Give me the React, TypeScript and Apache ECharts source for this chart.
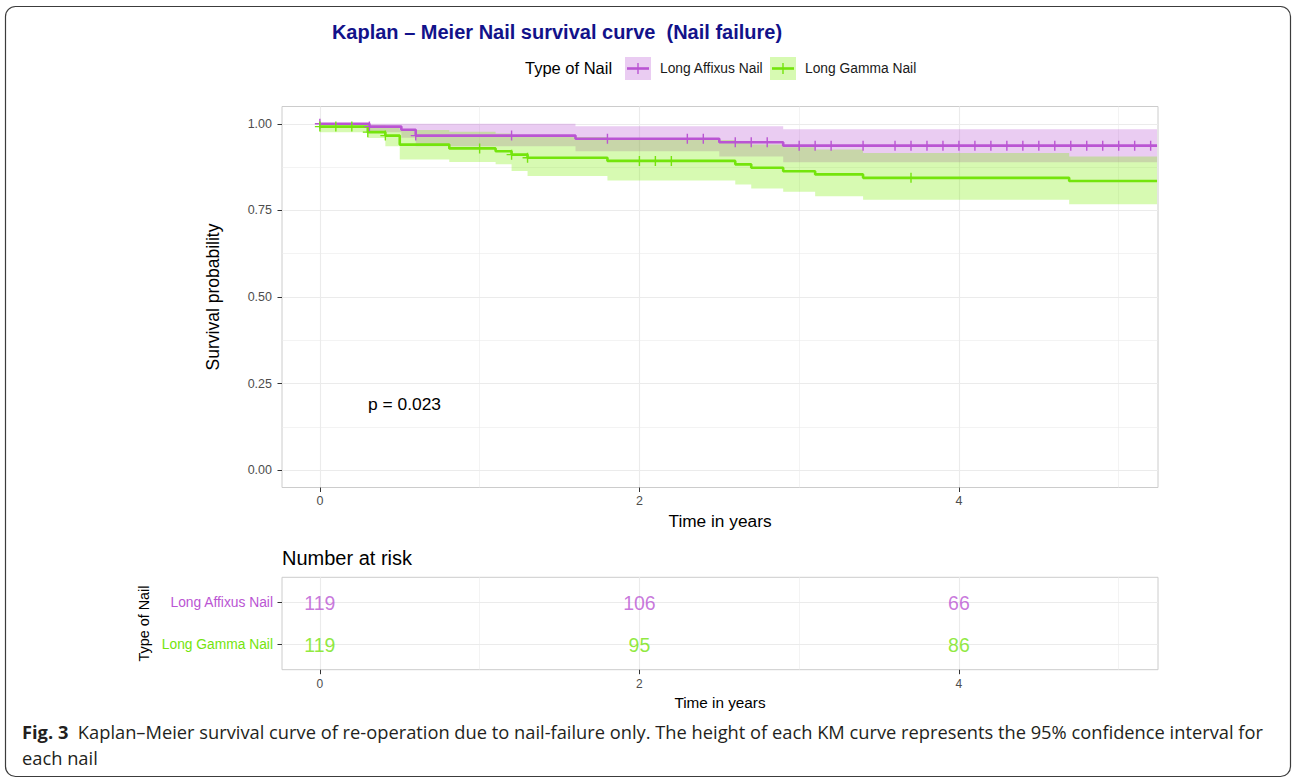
import React, { useEffect, useRef } from "react";
import * as echarts from "echarts";

// ---------- data ----------
const groups = ["Long Affixus Nail", "Long Gamma Nail"];
const groupColors = ["#BA55D3", "#74E40C"];
const bandColors = ["rgba(186,85,211,0.3)", "rgba(124,240,0,0.3)"];

// Long Affixus Nail (step times in years, survival, 95% CI)
const affixusTime = [0, 0.31, 0.51, 0.6, 1.6, 2.5, 2.9, 5.24];
const affixusSurv = [1.0, 0.992, 0.983, 0.966, 0.957, 0.947, 0.937, 0.937];
const affixusUpper = [1.0, 1.0, 1.0, 1.0, 0.993, 0.993, 0.984, 0.984];
const affixusLower = [1.0, 0.976, 0.96, 0.935, 0.921, 0.906, 0.889, 0.889];
const affixusCensor = [0, 0.31, 0.6, 1.2, 1.8, 2.3, 2.4, 2.6, 2.7, 2.8, 3.0, 3.1, 3.2, 3.4, 3.6, 3.7, 3.8, 3.9, 4.0, 4.1, 4.2, 4.3, 4.4, 4.5, 4.6, 4.7, 4.8, 4.9, 5.0, 5.1, 5.2];

// Long Gamma Nail
const gammaTime = [0, 0.3, 0.41, 0.5, 0.81, 1.1, 1.2, 1.3, 1.8, 2.6, 2.7, 2.9, 3.1, 3.4, 4.69, 5.24];
const gammaSurv = [0.992, 0.976, 0.966, 0.94, 0.929, 0.921, 0.911, 0.902, 0.893, 0.883, 0.873, 0.863, 0.854, 0.844, 0.835, 0.835];
const gammaUpper = [1.0, 0.995, 0.99, 0.982, 0.977, 0.972, 0.967, 0.962, 0.953, 0.947, 0.94, 0.932, 0.926, 0.916, 0.906, 0.906];
const gammaLower = [0.976, 0.959, 0.935, 0.897, 0.89, 0.883, 0.864, 0.849, 0.836, 0.825, 0.813, 0.804, 0.791, 0.781, 0.768, 0.768];
const gammaCensor = [0, 0.1, 0.2, 0.3, 0.41, 1.0, 1.2, 1.3, 2.0, 2.1, 2.2, 3.7];

// Number at risk
const riskTimes = [0, 2, 4];
const affixusRisk = [119, 106, 66];
const gammaRisk = [119, 95, 86];

const xTicks = [0, 2, 4];
const xMinorTicks = [1, 3, 5];
const yTicks = [0, 0.25, 0.5, 0.75, 1];
const yMinorTicks = [0.125, 0.375, 0.625, 0.875];

const pValueText = "p = 0.023";

// ---------- helpers ----------
const FONT = "'Liberation Sans', Arial, Helvetica, sans-serif";
const CAPTION_FONT = "'Open Sans', 'Noto Sans', sans-serif";
const X_MIN = -0.237;
const X_MAX = 5.246;
const GRID_LINE = "#ebebeb";

function survAt(times: number[], surv: number[], t: number) {
  let v = surv[0];
  for (let i = 0; i < times.length; i++) if (times[i] <= t + 1e-9) v = surv[i];
  return v;
}

function bandSeries(times: number[], lo: number[], hi: number[], fill: string) {
  return {
    type: "custom",
    xAxisIndex: 0,
    yAxisIndex: 0,
    silent: true,
    z: 1,
    data: [[times[0], hi[0]]],
    renderItem: (_p: any, api: any) => {
      const pts: number[][] = [];
      for (let i = 0; i < times.length - 1; i++) {
        pts.push(api.coord([times[i], hi[i]]));
        pts.push(api.coord([times[i + 1], hi[i]]));
      }
      for (let i = times.length - 2; i >= 0; i--) {
        pts.push(api.coord([times[i + 1], lo[i]]));
        pts.push(api.coord([times[i], lo[i]]));
      }
      return { type: "polygon", shape: { points: pts }, style: { fill, stroke: "none" } };
    },
  };
}

const PLUS = "path://M4.3,0H5.7V4.3H10V5.7H5.7V10H4.3V5.7H0V4.3H4.3Z";

function lineSeries(name: string, times: number[], surv: number[], color: string) {
  return {
    type: "line",
    name,
    xAxisIndex: 0,
    yAxisIndex: 0,
    step: "end",
    symbol: "none",
    showSymbol: false,
    silent: true,
    z: 3,
    data: times.map((t, i) => [t, surv[i]]),
    lineStyle: { width: 2.6, color },
    itemStyle: { color },
  };
}

function censorSeries(name: string, censor: number[], times: number[], surv: number[], color: string) {
  return {
    type: "scatter",
    name: name + " censored",
    xAxisIndex: 0,
    yAxisIndex: 0,
    symbol: PLUS,
    symbolSize: 10,
    silent: true,
    z: 4,
    data: censor.map((t) => [t, survAt(times, surv, t)]),
    itemStyle: { color, opacity: 1 },
  };
}

function riskSeries(row: number, values: number[], color: string) {
  return {
    type: "scatter",
    xAxisIndex: 2,
    yAxisIndex: 2,
    symbol: "circle",
    symbolSize: 1,
    silent: true,
    itemStyle: { color: "rgba(0,0,0,0)" },
    data: riskTimes.map((t, i) => [t, row, values[i]]),
    label: {
      show: true,
      position: "inside",
      formatter: (p: any) => String(p.value[2]),
      color,
      fontSize: 19.5,
      fontFamily: FONT,
    },
  };
}

const axisTickStyle = { lineStyle: { color: "#333333", width: 1 } };
const noLine = { show: false, onZero: false };

function buildOption() {
  return {
    animation: false,
    backgroundColor: "#ffffff",
    textStyle: { fontFamily: FONT },
    grid: [
      { left: 282, top: 106.5, width: 876, height: 381, show: true, borderColor: "#cccccc", borderWidth: 1, backgroundColor: "transparent" },
      { left: 282, top: 577.3, width: 876, height: 92.4, show: true, borderColor: "#cccccc", borderWidth: 1, backgroundColor: "transparent" },
    ],
    xAxis: [
      {
        type: "value", gridIndex: 0, min: X_MIN, max: X_MAX, position: "bottom",
        axisLine: noLine,
        axisTick: { show: true, length: 4.5, customValues: xTicks, ...axisTickStyle },
        axisLabel: { customValues: xTicks, color: "#4d4d4d", fontSize: 12.5, margin: 7, fontFamily: FONT },
        splitLine: { show: true, lineStyle: { color: GRID_LINE, width: 1.1 } },
        name: "Time in years", nameLocation: "middle", nameGap: 25,
        nameTextStyle: { color: "#000", fontSize: 17.3, fontFamily: FONT },
      },
      {
        type: "value", gridIndex: 0, min: X_MIN, max: X_MAX, position: "top",
        axisLine: noLine, axisLabel: { show: false },
        axisTick: { show: false, customValues: xMinorTicks },
        splitLine: { show: true, lineStyle: { color: GRID_LINE, width: 0.6 } },
      },
      {
        type: "value", gridIndex: 1, min: X_MIN, max: X_MAX, position: "bottom",
        axisLine: noLine,
        axisTick: { show: true, length: 4.5, customValues: xTicks, ...axisTickStyle },
        axisLabel: { customValues: xTicks, color: "#4d4d4d", fontSize: 12, margin: 8, fontFamily: FONT },
        splitLine: { show: true, lineStyle: { color: GRID_LINE, width: 1.1 } },
        name: "Time in years", nameLocation: "middle", nameGap: 25,
        nameTextStyle: { color: "#000", fontSize: 15.3, fontFamily: FONT },
      },
      {
        type: "value", gridIndex: 1, min: X_MIN, max: X_MAX, position: "top",
        axisLine: noLine, axisLabel: { show: false },
        axisTick: { show: false, customValues: xMinorTicks },
        splitLine: { show: true, lineStyle: { color: GRID_LINE, width: 0.6 } },
      },
    ],
    yAxis: [
      {
        type: "value", gridIndex: 0, min: -0.05, max: 1.05, position: "left",
        axisLine: noLine,
        axisTick: { show: true, length: 4.5, customValues: yTicks, ...axisTickStyle },
        axisLabel: { customValues: yTicks, formatter: (v: number) => v.toFixed(2), color: "#4d4d4d", fontSize: 12.5, margin: 10, fontFamily: FONT },
        splitLine: { show: true, lineStyle: { color: GRID_LINE, width: 1.1 } },
        name: "Survival probability", nameLocation: "middle", nameGap: 60,
        nameTextStyle: { color: "#000", fontSize: 17.5, fontFamily: FONT },
      },
      {
        type: "value", gridIndex: 0, min: -0.05, max: 1.05, position: "right",
        axisLine: noLine, axisLabel: { show: false },
        axisTick: { show: false, customValues: yMinorTicks },
        splitLine: { show: true, lineStyle: { color: GRID_LINE, width: 0.6 } },
      },
      {
        type: "value", gridIndex: 1, min: 0.4, max: 2.6, inverse: true, position: "left",
        axisLine: noLine,
        axisTick: { show: true, length: 4.5, customValues: [1, 2], ...axisTickStyle },
        axisLabel: {
          customValues: [1, 2],
          formatter: (v: number) => groups[Math.round(Number(v)) - 1] || "",
          color: (v: any) => groupColors[Math.round(Number(v)) - 1] || "#4d4d4d",
          fontSize: 13.8, margin: 9, fontFamily: FONT,
        },
        splitLine: { show: true, lineStyle: { color: GRID_LINE, width: 1.1 } },
        name: "Type of Nail", nameLocation: "middle", nameGap: 128,
        nameTextStyle: { color: "#000", fontSize: 14.4, fontFamily: FONT },
      },
    ],
    series: [
      bandSeries(affixusTime, affixusLower, affixusUpper, bandColors[0]),
      bandSeries(gammaTime, gammaLower, gammaUpper, bandColors[1]),
      lineSeries(groups[0], affixusTime, affixusSurv, groupColors[0]),
      lineSeries(groups[1], gammaTime, gammaSurv, groupColors[1]),
      censorSeries(groups[0], affixusCensor, affixusTime, affixusSurv, groupColors[0]),
      censorSeries(groups[1], gammaCensor, gammaTime, gammaSurv, groupColors[1]),
      riskSeries(1, affixusRisk, groupColors[0]),
      riskSeries(2, gammaRisk, groupColors[1]),
    ],
    graphic: [
      {
        type: "rect", silent: true, z: -1,
        shape: { x: 5.5, y: 6.5, width: 1285, height: 770, r: 10 },
        style: { fill: "none", stroke: "#3c3c3c", lineWidth: 1.2 },
      },
      {
        type: "text", x: 557, y: 32, silent: true,
        style: { text: "Kaplan – Meier Nail survival curve  (Nail failure)", fontSize: 20, fontWeight: "bold", fontFamily: FONT, fill: "#12128a", align: "center", verticalAlign: "middle" },
      },
      {
        type: "text", x: 525, y: 68, silent: true,
        style: { text: "Type of Nail", fontSize: 16.5, fontFamily: FONT, fill: "#000", align: "left", verticalAlign: "middle" },
      },
      // legend keys
      ...[0, 1].flatMap((g) => {
        const kx = g === 0 ? 625 : 770;
        const tx = g === 0 ? 660 : 805;
        return [
          { type: "rect", silent: true, shape: { x: kx, y: 57, width: 26, height: 23 }, style: { fill: bandColors[g] } },
          { type: "line", silent: true, shape: { x1: kx + 2, y1: 68.5, x2: kx + 24, y2: 68.5 }, style: { stroke: groupColors[g], lineWidth: 2.6 } },
          { type: "line", silent: true, shape: { x1: kx + 13, y1: 63, x2: kx + 13, y2: 74 }, style: { stroke: groupColors[g], lineWidth: 1.4 } },
          { type: "text", silent: true, x: tx, y: 68.5, style: { text: groups[g], fontSize: 13.8, fontFamily: FONT, fill: "#1a1a1a", align: "left", verticalAlign: "middle" } },
        ];
      }),
      {
        type: "text", x: 368, y: 404, silent: true,
        style: { text: pValueText, fontSize: 17.4, fontFamily: FONT, fill: "#000", align: "left", verticalAlign: "middle" },
      },
      {
        type: "text", x: 282, y: 558, silent: true,
        style: { text: "Number at risk", fontSize: 20, fontFamily: FONT, fill: "#000", align: "left", verticalAlign: "middle" },
      },
      {
        type: "text", x: 22, y: 731, silent: true,
        style: {
          text: "{b|Fig. 3}  Kaplan–Meier survival curve of re-operation due to nail-failure only. The height of each KM curve represents the 95% confidence interval for",
          fontSize: 18.3, fontFamily: CAPTION_FONT, fill: "#231f20", align: "left", verticalAlign: "middle",
          rich: { b: { fontWeight: "bold", fontSize: 18.3, fontFamily: CAPTION_FONT, fill: "#231f20" } },
        },
      },
      {
        type: "text", x: 22, y: 757, silent: true,
        style: { text: "each nail", fontSize: 18.3, fontFamily: CAPTION_FONT, fill: "#231f20", align: "left", verticalAlign: "middle" },
      },
    ],
  };
}

export default function App() {
  const ref = useRef<HTMLDivElement>(null);
  useEffect(() => {
    if (!ref.current) return;
    const chart = echarts.init(ref.current, null, { renderer: "svg" });
    chart.setOption(buildOption() as any);
    return () => chart.dispose();
  }, []);
  return (
    <div
      ref={ref}
      style={{ position: "fixed", left: 0, top: 0, width: 1293, height: 779, background: "#ffffff" }}
    />
  );
}
